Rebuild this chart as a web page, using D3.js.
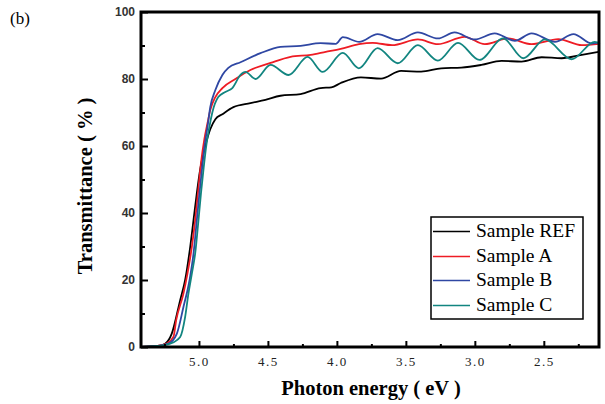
<!DOCTYPE html>
<html>
<head>
<meta charset="utf-8">
<script src="https://cdn.jsdelivr.net/npm/d3@7"></script>
<style>
  body { margin: 0; background: #fff; }
  svg { display: block; }
</style>
</head>
<body>
<svg id="chart" width="605" height="404"></svg>
<script>
// photon energy (eV) and transmittance (%)
const refE = [5.42, 5.30, 5.245, 5.197, 5.136, 5.10, 5.063, 5.039, 5.015, 4.991, 4.954, 4.918, 4.881, 4.83, 4.75, 4.627, 4.518, 4.409, 4.263, 4.118, 4.04, 3.972, 3.826, 3.68, 3.535, 3.389, 3.244, 3.098, 2.953, 2.807, 2.662, 2.516, 2.371, 2.225, 2.10];
const refT = [0, 0.3, 1, 4, 14, 20, 30, 38, 46, 53, 60, 65, 68, 69.5, 71.6, 72.8, 73.8, 75, 75.5, 77.3, 77.5, 78.8, 80.5, 80.1, 82.4, 82.2, 83.2, 83.4, 84.2, 85.4, 85.2, 86.5, 86.2, 87.2, 88.1];

const aE = [5.42, 5.30, 5.233, 5.185, 5.165, 5.112, 5.083, 5.051, 5.027, 5.007, 4.985, 4.961, 4.937, 4.918, 4.881, 4.83, 4.736, 4.627, 4.481, 4.336, 4.19, 4.081, 3.972, 3.84, 3.74, 3.60, 3.413, 3.268, 3.074, 2.928, 2.758, 2.589, 2.395, 2.225, 2.10];
const aT = [0, 0.3, 1, 3, 8, 16, 22, 30, 38, 46, 55, 62, 67, 70.7, 74.6, 77.3, 80, 82.7, 84.8, 86.6, 87.2, 88.1, 89, 90.4, 90.8, 90.1, 91.8, 90.4, 92.6, 90.4, 92.1, 90.4, 91.9, 90.1, 90.5];

const bE = [5.42, 5.30, 5.221, 5.160, 5.112, 5.068, 5.039, 5.015, 4.996, 4.978, 4.959, 4.937, 4.918, 4.881, 4.83, 4.787, 4.699, 4.554, 4.409, 4.263, 4.118, 4.008, 3.957, 3.838, 3.705, 3.559, 3.413, 3.268, 3.147, 3.001, 2.856, 2.710, 2.589, 2.419, 2.285, 2.152, 2.094];
const bT = [0, 0.3, 1, 4, 12, 20, 28, 38, 46, 53, 60, 66, 71.6, 76.7, 81.2, 83.3, 85, 87.7, 89.6, 89.9, 90.7, 90.5, 92.5, 91.1, 93.4, 91.6, 93.9, 92.1, 93.9, 91.8, 93.6, 91.4, 93.6, 91.1, 93.4, 90.6, 91.0];

const cE = [5.42, 5.30, 5.209, 5.136, 5.10, 5.076, 5.051, 5.027, 5.003, 4.985, 4.967, 4.947, 4.923, 4.903, 4.86, 4.809, 4.758, 4.699, 4.663, 4.590, 4.481, 4.350, 4.212, 4.103, 3.957, 3.841, 3.705, 3.559, 3.413, 3.268, 3.122, 2.967, 2.795, 2.649, 2.492, 2.298, 2.131, 2.094];
const cT = [0, 0.3, 1, 3, 9, 16, 22, 28, 38, 46, 53, 60, 66, 70, 74.6, 76.1, 77.3, 81.2, 82.1, 80, 84.2, 81.2, 86.6, 82.1, 87.8, 83.2, 89.2, 84.7, 90.1, 85.5, 90.8, 85.7, 92.1, 86.2, 91.8, 85.9, 91.1, 90.5];

const seriesNames = ["Sample REF", "Sample A", "Sample B", "Sample C"];
const seriesColors = ["#000000", "#ee1c24", "#2f47a3", "#128580"];

const xMajor = [5.0, 4.5, 4.0, 3.5, 3.0, 2.5];
const xMinor = [5.25, 4.75, 4.25, 3.75, 3.25, 2.75, 2.25];
const yMajor = [0, 20, 40, 60, 80, 100];
const yMinor = [10, 30, 50, 70, 90];

const series = [
  { name: seriesNames[0], color: seriesColors[0], pts: d3.zip(refE, refT) },
  { name: seriesNames[1], color: seriesColors[1], pts: d3.zip(aE, aT) },
  { name: seriesNames[2], color: seriesColors[2], pts: d3.zip(bE, bT) },
  { name: seriesNames[3], color: seriesColors[3], pts: d3.zip(cE, cT) },
];

const svg = d3.select("#chart");
const plotLeft = 141, plotRight = 599, plotTop = 12, plotBottom = 347;

const x = d3.scaleLinear().domain([5.42, 2.1]).range([plotLeft, plotRight]);
const y = d3.scaleLinear().domain([0, 100]).range([plotBottom, plotTop]);

// curves
const line = d3.line()
  .x((d) => x(d[0]))
  .y((d) => y(d[1]))
  .curve(d3.curveMonotoneX);

svg.append("g")
  .selectAll("path")
  .data(series)
  .join("path")
  .attr("fill", "none")
  .attr("stroke", (d) => d.color)
  .attr("stroke-width", 1.8)
  .attr("d", (d) => line(d.pts));

// axes, ticks pointing inward
const xAxis = svg.append("g")
  .attr("transform", `translate(0,${plotBottom})`)
  .call(d3.axisBottom(x).tickValues(xMajor).tickSize(-6).tickPadding(10).tickFormat(d3.format(".1f")));
svg.append("g")
  .attr("transform", `translate(0,${plotBottom})`)
  .call(d3.axisBottom(x).tickValues(xMinor).tickSize(-3).tickFormat(""));

const yAxis = svg.append("g")
  .attr("transform", `translate(${plotLeft},0)`)
  .call(d3.axisLeft(y).tickValues(yMajor).tickSize(-7).tickPadding(6));
svg.append("g")
  .attr("transform", `translate(${plotLeft},0)`)
  .call(d3.axisLeft(y).tickValues(yMinor).tickSize(-4).tickFormat(""));

svg.selectAll(".domain").remove();
svg.selectAll(".tick line").attr("stroke", "#000").attr("stroke-width", 2);

xAxis.selectAll("text")
  .attr("font-family", "Liberation Serif, serif")
  .attr("font-size", 13)
  .attr("letter-spacing", 1.5)
  .attr("fill", "#222");
yAxis.selectAll("text")
  .attr("font-family", "Liberation Sans, Arial, sans-serif")
  .attr("font-size", 12)
  .attr("font-weight", "bold")
  .attr("fill", "#333");

// frame
svg.append("rect")
  .attr("x", plotLeft)
  .attr("y", plotTop)
  .attr("width", plotRight - plotLeft)
  .attr("height", plotBottom - plotTop)
  .attr("fill", "none")
  .attr("stroke", "#000")
  .attr("stroke-width", 3);

// titles
svg.append("text")
  .attr("x", 371)
  .attr("y", 395)
  .attr("text-anchor", "middle")
  .attr("font-family", "Liberation Serif, serif")
  .attr("font-weight", "bold")
  .attr("font-size", 20.5)
  .text("Photon energy ( eV )");

svg.append("text")
  .attr("transform", "translate(92,186) rotate(-90)")
  .attr("text-anchor", "middle")
  .attr("font-family", "Liberation Serif, serif")
  .attr("font-weight", "bold")
  .attr("font-size", 20.5)
  .text("Transmittance ( % )");

svg.append("text")
  .attr("x", 10)
  .attr("y", 24)
  .attr("font-family", "Liberation Serif, serif")
  .attr("font-size", 17)
  .text("(b)");

// legend
const legend = svg.append("g").attr("transform", "translate(431,217)");
legend.append("rect")
  .attr("width", 152)
  .attr("height", 102)
  .attr("fill", "#fff")
  .attr("stroke", "#000")
  .attr("stroke-width", 1.5);

const rows = legend.selectAll("g.row")
  .data(series)
  .join("g")
  .attr("class", "row")
  .attr("transform", (d, i) => `translate(0,${Math.round(14 + i * 24.5)})`);
rows.append("line")
  .attr("x1", 2)
  .attr("x2", 39)
  .attr("y1", 0.5)
  .attr("y2", 0.5)
  .attr("stroke", (d) => d.color)
  .attr("stroke-width", 1.3);
rows.append("text")
  .attr("x", 45)
  .attr("y", 6)
  .attr("font-family", "Liberation Serif, serif")
  .attr("font-size", 19.5)
  .text((d) => d.name);
</script>
</body>
</html>
